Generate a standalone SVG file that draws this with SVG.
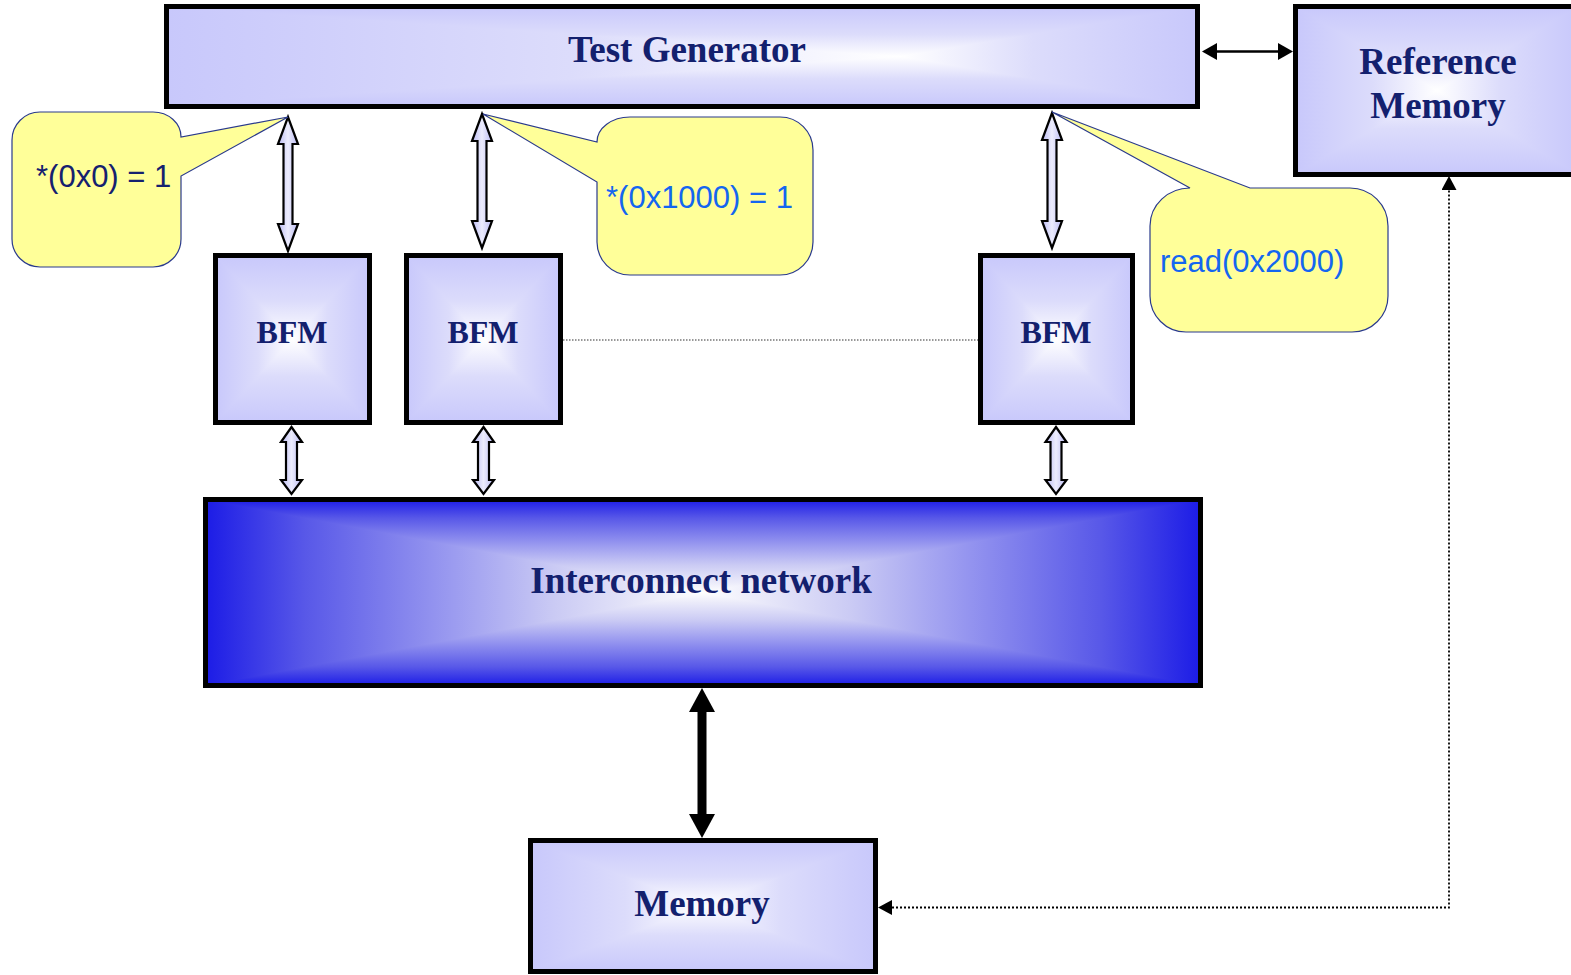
<svg xmlns="http://www.w3.org/2000/svg" width="1571" height="975" viewBox="0 0 1571 975">
<defs>
<style>
.box{fill:none;stroke:#000;stroke-width:5}
.base{fill:#e2e2fb}
.baseB{fill:#8a8aee}
polygon.g{shape-rendering:crispEdges}
.lbl{font-family:"Liberation Serif","Times New Roman",serif;font-weight:bold;font-size:37px;fill:#13206e;text-anchor:middle}
.bfm{font-size:32px}
.call{fill:#ffff99;stroke:#2a3a8c;stroke-width:1.2}
.ctxt{font-family:"Liberation Sans",Arial,sans-serif;font-size:31px}
.harrow{fill:url(#ga);stroke:#000;stroke-width:2.2;stroke-linejoin:miter}
</style>
<linearGradient id="gL" x1="0" y1="0" x2="1" y2="0"><stop offset="0" stop-color="#c8c8fb"/><stop offset="0.55" stop-color="#dcdcfb"/><stop offset="1" stop-color="#ffffff"/></linearGradient>
<linearGradient id="gR" x1="1" y1="0" x2="0" y2="0"><stop offset="0" stop-color="#c8c8fb"/><stop offset="0.55" stop-color="#dcdcfb"/><stop offset="1" stop-color="#ffffff"/></linearGradient>
<linearGradient id="gT" x1="0" y1="0" x2="0" y2="1"><stop offset="0" stop-color="#c8c8fb"/><stop offset="0.55" stop-color="#dcdcfb"/><stop offset="1" stop-color="#ffffff"/></linearGradient>
<linearGradient id="gB" x1="0" y1="1" x2="0" y2="0"><stop offset="0" stop-color="#c8c8fb"/><stop offset="0.55" stop-color="#dcdcfb"/><stop offset="1" stop-color="#ffffff"/></linearGradient>
<linearGradient id="bL" x1="0" y1="0" x2="1" y2="0"><stop offset="0" stop-color="#1c1ce6"/><stop offset="0.2" stop-color="#5858e8"/><stop offset="0.5" stop-color="#9c9cf0"/><stop offset="0.7" stop-color="#cacaf4"/><stop offset="0.9" stop-color="#ececfa"/><stop offset="1" stop-color="#ffffff"/></linearGradient>
<linearGradient id="bR" x1="1" y1="0" x2="0" y2="0"><stop offset="0" stop-color="#1c1ce6"/><stop offset="0.2" stop-color="#5858e8"/><stop offset="0.5" stop-color="#9c9cf0"/><stop offset="0.7" stop-color="#cacaf4"/><stop offset="0.9" stop-color="#ececfa"/><stop offset="1" stop-color="#ffffff"/></linearGradient>
<linearGradient id="bT" x1="0" y1="0" x2="0" y2="1"><stop offset="0" stop-color="#1c1ce6"/><stop offset="0.2" stop-color="#5858e8"/><stop offset="0.5" stop-color="#9c9cf0"/><stop offset="0.7" stop-color="#cacaf4"/><stop offset="0.9" stop-color="#ececfa"/><stop offset="1" stop-color="#ffffff"/></linearGradient>
<linearGradient id="bB" x1="0" y1="1" x2="0" y2="0"><stop offset="0" stop-color="#1c1ce6"/><stop offset="0.2" stop-color="#5858e8"/><stop offset="0.5" stop-color="#9c9cf0"/><stop offset="0.7" stop-color="#cacaf4"/><stop offset="0.9" stop-color="#ececfa"/><stop offset="1" stop-color="#ffffff"/></linearGradient>
<linearGradient id="ga" x1="0" y1="0" x2="1" y2="0"><stop offset="0" stop-color="#babaf2"/><stop offset="0.5" stop-color="#ececfd"/><stop offset="1" stop-color="#babaf2"/></linearGradient>
<marker id="mS" markerUnits="userSpaceOnUse" markerWidth="15" markerHeight="17" refX="0" refY="8.5" orient="auto-start-reverse" viewBox="0 0 15 17"><path d="M0,0 L15,8.5 L0,17 Z" fill="#000"/></marker>
<marker id="mD" markerUnits="userSpaceOnUse" markerWidth="14" markerHeight="15" refX="0" refY="7.5" orient="auto-start-reverse" viewBox="0 0 14 15"><path d="M0,0 L14,7.5 L0,15 Z" fill="#000"/></marker>
<marker id="mL" markerUnits="userSpaceOnUse" markerWidth="24" markerHeight="26" refX="0" refY="13" orient="auto-start-reverse" viewBox="0 0 24 26"><path d="M0,0 L24,13 L0,26 Z" fill="#000"/></marker>
</defs>
<rect width="1571" height="975" fill="#fff"/>

<g id="connectors">
<line x1="1217" y1="51.5" x2="1278" y2="51.5" stroke="#000" stroke-width="2.5" marker-start="url(#mS)" marker-end="url(#mS)"/>
<line x1="702" y1="712" x2="702" y2="814" stroke="#000" stroke-width="9" marker-start="url(#mL)" marker-end="url(#mL)"/>
<path d="M892,907.5 H1449 V190" fill="none" stroke="#000" stroke-width="1.8" stroke-dasharray="2 2" marker-start="url(#mD)" marker-end="url(#mD)"/>
<line x1="563" y1="340" x2="978" y2="340" stroke="#333" stroke-width="1.2" stroke-dasharray="1.5 1.5"/>
<polygon class="harrow" points="288,117 298,144 292.5,144 292.5,224 298,224 288,251 278,224 283.5,224 283.5,144 278,144"/>
<polygon class="harrow" points="482,114 492,141 486.5,141 486.5,221 492,221 482,248 472,221 477.5,221 477.5,141 472,141"/>
<polygon class="harrow" points="1052,113 1062,140 1056.5,140 1056.5,221 1062,221 1052,248 1042,221 1047.5,221 1047.5,140 1042,140"/>
<polygon class="harrow" points="291.5,427 302,442 297,442 297,480 302,480 291.5,494 281,480 286,480 286,442 281,442"/>
<polygon class="harrow" points="483.5,427 494,442 489,442 489,480 494,480 483.5,494 473,480 478,480 478,442 473,442"/>
<polygon class="harrow" points="1056,427 1066.5,442 1061.5,442 1061.5,480 1066.5,480 1056,494 1045.5,480 1050.5,480 1050.5,442 1045.5,442"/>
</g>

<g id="test-generator">
<rect class="base" x="166.5" y="6.5" width="1031" height="100"/>
<polygon class="g" fill="url(#gL)" points="166.5,6.5 900,56.5 166.5,106.5"/>
<polygon class="g" fill="url(#gR)" points="1197.5,6.5 900,56.5 1197.5,106.5"/>
<polygon class="g" fill="url(#gT)" points="166.5,6.5 1197.5,6.5 900,56.5"/>
<polygon class="g" fill="url(#gB)" points="166.5,106.5 1197.5,106.5 900,56.5"/>
<rect class="box" x="166.5" y="6.5" width="1031" height="100"/>
<text class="lbl" x="687" y="62">Test Generator</text>
</g>

<g id="reference-memory">
<rect class="base" x="1295.5" y="6.5" width="283" height="168"/>
<polygon class="g" fill="url(#gL)" points="1295.5,6.5 1437,90.5 1295.5,174.5"/>
<polygon class="g" fill="url(#gR)" points="1578.5,6.5 1437,90.5 1578.5,174.5"/>
<polygon class="g" fill="url(#gT)" points="1295.5,6.5 1578.5,6.5 1437,90.5"/>
<polygon class="g" fill="url(#gB)" points="1295.5,174.5 1578.5,174.5 1437,90.5"/>
<rect class="box" x="1295.5" y="6.5" width="283" height="168"/>
<text class="lbl" x="1438" y="74">Reference</text>
<text class="lbl" x="1438" y="118">Memory</text>
</g>

<g id="callout-1">
<path class="call" d="M40,112 H153 A28 25 0 0 1 181,137 L288,117 L181,176 V239 A28 28 0 0 1 153,267 H40 A28 28 0 0 1 12,239 V140 A28 28 0 0 1 40,112 Z"/>
<text class="ctxt" x="36" y="187" fill="#15216f">*(0x0) = 1</text>
</g>

<g id="callout-2">
<path class="call" d="M630,117 H780 A33 33 0 0 1 813,150 V242 A33 33 0 0 1 780,275 H630 A33 33 0 0 1 597,242 V182 L483,114 L597,142 A33 25 0 0 1 630,117 Z"/>
<text class="ctxt" x="606" y="208" fill="#1466f0">*(0x1000) = 1</text>
</g>

<g id="callout-3">
<path class="call" d="M1190,188 L1052,112 L1250,188 H1350 A38 38 0 0 1 1388,226 V296 A36 36 0 0 1 1352,332 H1186 A36 36 0 0 1 1150,296 V226 A40 38 0 0 1 1190,188 Z"/>
<text class="ctxt" x="1160" y="272" fill="#1466f0">read(0x2000)</text>
</g>

<g id="bfm-1">
<rect class="base" x="215.5" y="255.5" width="154" height="167"/>
<polygon class="g" fill="url(#gL)" points="215.5,255.5 292.5,339 215.5,422.5"/>
<polygon class="g" fill="url(#gR)" points="369.5,255.5 292.5,339 369.5,422.5"/>
<polygon class="g" fill="url(#gT)" points="215.5,255.5 369.5,255.5 292.5,339"/>
<polygon class="g" fill="url(#gB)" points="215.5,422.5 369.5,422.5 292.5,339"/>
<rect class="box" x="215.5" y="255.5" width="154" height="167"/>
<text class="lbl bfm" x="292" y="343">BFM</text>
</g>

<g id="bfm-2">
<rect class="base" x="406.5" y="255.5" width="154" height="167"/>
<polygon class="g" fill="url(#gL)" points="406.5,255.5 483.5,339 406.5,422.5"/>
<polygon class="g" fill="url(#gR)" points="560.5,255.5 483.5,339 560.5,422.5"/>
<polygon class="g" fill="url(#gT)" points="406.5,255.5 560.5,255.5 483.5,339"/>
<polygon class="g" fill="url(#gB)" points="406.5,422.5 560.5,422.5 483.5,339"/>
<rect class="box" x="406.5" y="255.5" width="154" height="167"/>
<text class="lbl bfm" x="483" y="343">BFM</text>
</g>

<g id="bfm-3">
<rect class="base" x="980.5" y="255.5" width="152" height="167"/>
<polygon class="g" fill="url(#gL)" points="980.5,255.5 1056.5,339 980.5,422.5"/>
<polygon class="g" fill="url(#gR)" points="1132.5,255.5 1056.5,339 1132.5,422.5"/>
<polygon class="g" fill="url(#gT)" points="980.5,255.5 1132.5,255.5 1056.5,339"/>
<polygon class="g" fill="url(#gB)" points="980.5,422.5 1132.5,422.5 1056.5,339"/>
<rect class="box" x="980.5" y="255.5" width="152" height="167"/>
<text class="lbl bfm" x="1056" y="343">BFM</text>
</g>

<g id="interconnect-network">
<rect class="baseB" x="205.5" y="499.5" width="995" height="186"/>
<polygon class="g" fill="url(#bL)" points="205.5,499.5 703,592.5 205.5,685.5"/>
<polygon class="g" fill="url(#bR)" points="1200.5,499.5 703,592.5 1200.5,685.5"/>
<polygon class="g" fill="url(#bT)" points="205.5,499.5 1200.5,499.5 703,592.5"/>
<polygon class="g" fill="url(#bB)" points="205.5,685.5 1200.5,685.5 703,592.5"/>
<rect class="box" x="205.5" y="499.5" width="995" height="186"/>
<text class="lbl" x="701" y="593">Interconnect network</text>
</g>

<g id="memory">
<rect class="base" x="530.5" y="840.5" width="345" height="131"/>
<polygon class="g" fill="url(#gL)" points="530.5,840.5 703,906 530.5,971.5"/>
<polygon class="g" fill="url(#gR)" points="875.5,840.5 703,906 875.5,971.5"/>
<polygon class="g" fill="url(#gT)" points="530.5,840.5 875.5,840.5 703,906"/>
<polygon class="g" fill="url(#gB)" points="530.5,971.5 875.5,971.5 703,906"/>
<rect class="box" x="530.5" y="840.5" width="345" height="131"/>
<text class="lbl" x="702" y="916">Memory</text>
</g>
</svg>
